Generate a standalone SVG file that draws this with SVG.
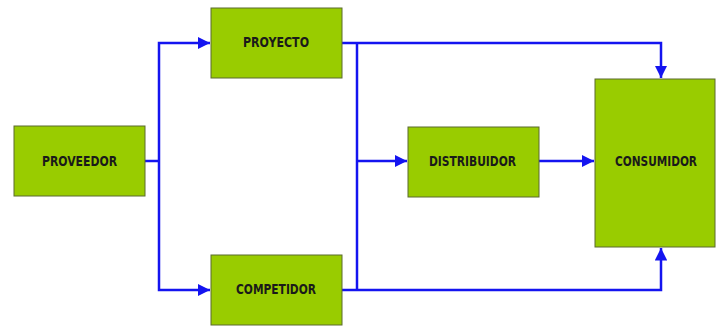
<svg xmlns="http://www.w3.org/2000/svg" width="716" height="327" viewBox="0 0 716 327">
<style>
.box{fill:#99cc00;stroke:#5b6b2e;stroke-width:1}
.lbl{font-family:"DejaVu Sans Condensed","DejaVu Sans",sans-serif;font-stretch:condensed;font-weight:bold;font-size:14px;fill:#1a1a1a;text-anchor:middle;dominant-baseline:central}
.c{fill:none;stroke:#1414f0;stroke-width:2.5}
</style>
<defs>
<marker id="ah" viewBox="0 0 10 10" refX="10" refY="5" markerWidth="5" markerHeight="5" orient="auto" markerUnits="strokeWidth">
<path d="M0,0 L10,5 L0,10 Z" fill="#1414f0"/>
</marker>
</defs>
<rect width="716" height="327" fill="#ffffff"/>
<g id="connectors">
<path class="c" d="M145,161 H159"/>
<path class="c" d="M159,161 V43 H210" marker-end="url(#ah)"/>
<path class="c" d="M159,161 V290 H210" marker-end="url(#ah)"/>
<path class="c" d="M342,43 H661 V78" marker-end="url(#ah)"/>
<path class="c" d="M342,290 H661 V248" marker-end="url(#ah)"/>
<path class="c" d="M357,43 V290"/>
<path class="c" d="M357,161 H407" marker-end="url(#ah)"/>
<path class="c" d="M539,161 H594" marker-end="url(#ah)"/>
</g>
<g id="proveedor"><rect class="box" x="14" y="126" width="131" height="70"/><text class="lbl" x="79.5" y="161" textLength="75" lengthAdjust="spacingAndGlyphs">PROVEEDOR</text></g>
<g id="proyecto"><rect class="box" x="211" y="8" width="131" height="70"/><text class="lbl" x="276" y="42" textLength="66" lengthAdjust="spacingAndGlyphs">PROYECTO</text></g>
<g id="competidor"><rect class="box" x="211" y="255" width="131" height="70"/><text class="lbl" x="276" y="289" textLength="80" lengthAdjust="spacingAndGlyphs">COMPETIDOR</text></g>
<g id="distribuidor"><rect class="box" x="408" y="127" width="131" height="70"/><text class="lbl" x="472.5" y="161" textLength="87" lengthAdjust="spacingAndGlyphs">DISTRIBUIDOR</text></g>
<g id="consumidor"><rect class="box" x="595" y="79" width="120" height="168"/><text class="lbl" x="656" y="161" textLength="82" lengthAdjust="spacingAndGlyphs">CONSUMIDOR</text></g>
</svg>
